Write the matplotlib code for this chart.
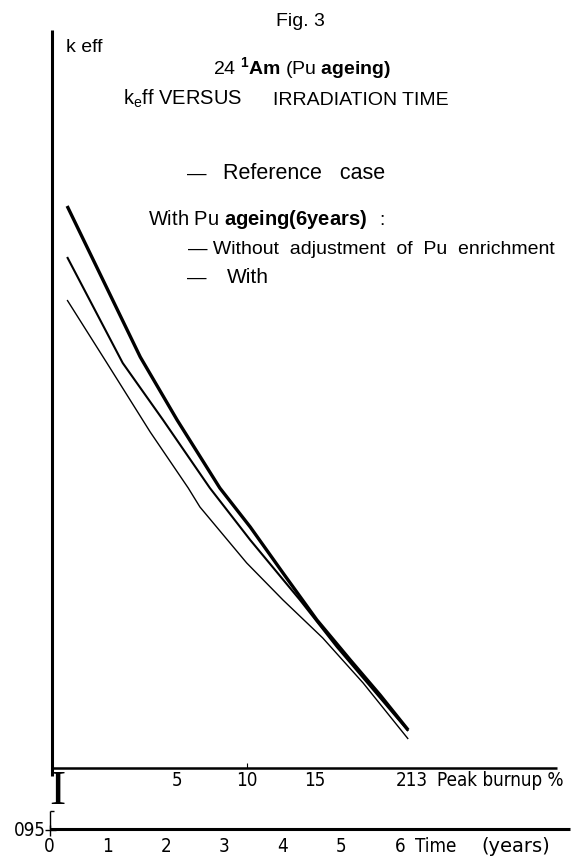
import matplotlib
matplotlib.use("Agg")
import matplotlib.pyplot as plt
from matplotlib.lines import Line2D

# ---------------- data ----------------
# time in years, keff values
ref_time = [0.31, 1.56, 2.19, 2.92, 3.44, 4.00, 4.58, 5.15, 5.66, 6.14]
ref_keff = [1.1992, 1.1388, 1.1136, 1.0864, 1.0708, 1.0524, 1.0336, 1.0176, 1.0036, 0.9896]

noadj_time = [0.31, 1.26, 1.95, 2.75, 3.44, 4.29, 4.92, 6.14]
noadj_keff = [1.1788, 1.1364, 1.1136, 1.0864, 1.0656, 1.0416, 1.0228, 0.9892]

adj_time = [0.31, 0.99, 1.73, 2.38, 2.58, 3.38, 4.00, 4.68, 5.37, 6.14]
adj_keff = [1.1616, 1.1364, 1.1088, 1.0864, 1.0788, 1.0564, 1.0416, 1.0264, 1.0084, 0.9860]

time_ticks = [0, 1, 2, 3, 4, 5, 6]
time_tick_labels = ["0", "1", "2", "3", "4", "5", "6"]
burnup_tick_labels = ["5", "10", "15", "213"]
burnup_tick_times = [2.19, 3.38, 4.55, 6.20]
keff_origin_label = "095"

# ---------------- figure ----------------
W, H = 581, 859
fig = plt.figure(figsize=(W / 100, H / 100), dpi=100)
fig.patch.set_facecolor("white")

plt.rcParams["mathtext.fontset"] = "custom"
plt.rcParams["mathtext.rm"] = "Liberation Sans"
plt.rcParams["mathtext.bf"] = "Liberation Sans:bold"
plt.rcParams["mathtext.it"] = "Liberation Sans:italic"

ax_left, ax_right, ax_top, ax_bottom = 49, 570, 30, 829
ax = fig.add_axes([ax_left / W, 1 - ax_bottom / H, (ax_right - ax_left) / W, (ax_bottom - ax_top) / H])
px_per_year = 58.5
keff_per_px = 0.0004
ax.set_xlim(0, (ax_right - ax_left) / px_per_year)
ax.set_ylim(0.95, 0.95 + (ax_bottom - ax_top) * keff_per_px)
for s in ax.spines.values():
    s.set_visible(False)
ax.set_yticks([])
ax.set_xticks(time_ticks)
ax.set_xticklabels(time_tick_labels)
ax.tick_params(axis="x", length=0, pad=6.0)
for lab in ax.get_xticklabels():
    lab.set_fontfamily("DejaVu Sans")
    lab.set_fontstretch("condensed")
    lab.set_fontsize(13.5)

# curves
ax.plot(ref_time, ref_keff, color="black", lw=2.4, solid_capstyle="butt", solid_joinstyle="round")
ax.plot(noadj_time, noadj_keff, color="black", lw=1.5, solid_capstyle="butt", solid_joinstyle="round")
ax.plot(adj_time, adj_keff, color="black", lw=1.0, solid_capstyle="butt", solid_joinstyle="round")

# axes decorations
def fx(px):
    return px / W

def fy(py):
    return 1 - py / H

def fline(x0, y0, x1, y1, lw):
    fig.add_artist(Line2D([fx(x0), fx(x1)], [fy(y0), fy(y1)], color="black", lw=lw,
                          solid_capstyle="butt", transform=fig.transFigure))

fline(52, 30, 52, 776, 2.2)      # vertical keff axis
fline(52, 768, 557, 768, 1.8)    # burnup axis
fline(247, 763, 247, 768, 0.8)   # small mark above 10
fline(50, 829, 570, 829, 2.2)    # time axis
fline(50, 811, 50, 829, 1.0)     # broken-axis stub
fline(50, 811, 54, 811, 1.0)
fline(45, 830, 56, 830, 1.0)     # origin cross
fline(50, 825, 50, 836, 1.0)
fig.text(fx(57), fy(792), "I", family="Liberation Serif", fontsize=35, ha="center", va="center")

bottom_font = dict(family="DejaVu Sans", fontstretch="condensed", fontsize=13.5)
fig.text(fx(46), fy(831), keff_origin_label, ha="right", va="center", **bottom_font)
for lab, t in zip(burnup_tick_labels, burnup_tick_times):
    ax.text(t, 0.95 + (ax_bottom - 781) * keff_per_px, lab, ha="center", va="center", **bottom_font)
fig.text(fx(437), fy(781), "Peak burnup %", ha="left", va="center", **bottom_font)
fig.text(fx(415), fy(846), "Time", ha="left", va="center", **bottom_font)
fig.text(fx(516), fy(846), "(years)", ha="center", va="center", family="DejaVu Sans", fontsize=14)

# titles and legend texts
tf = dict(family="Liberation Sans", fontsize=14, va="baseline")
fig.text(fx(300), fy(26), "Fig. 3", ha="center", **tf)
fig.text(fx(66), fy(52), "k eff", ha="left", **tf)
fig.text(fx(213), fy(74), r"24 $^{\mathbf{1}}\mathbf{Am}$ (Pu $\mathbf{ageing)}$", ha="left", **tf)
fig.text(fx(123), fy(105), r"k$_{\rm e}$ff VERSUS", ha="left", family="Liberation Sans",
         fontsize=14.5, va="baseline")
fig.text(fx(273), fy(105), "IRRADIATION TIME", ha="left", **tf)
fig.text(fx(187), fy(179), "—", ha="left", **tf)
fig.text(fx(223), fy(179), "Reference   case", ha="left", family="Liberation Sans",
         fontsize=15.5, va="baseline")
fig.text(fx(148), fy(225), r"With Pu $\mathbf{ageing(6years)}$", ha="left", family="Liberation Sans",
         fontsize=14.5, va="baseline")
fig.text(fx(376), fy(225), r"$\it{:}$", ha="left", **tf)
fig.text(fx(188), fy(254), "— Without  adjustment  of  Pu  enrichment", ha="left", **tf)
fig.text(fx(187), fy(283), "—", ha="left", **tf)
fig.text(fx(227), fy(283), "With", ha="left", family="Liberation Sans", fontsize=15, va="baseline")

fig.savefig("out.png", dpi=100, facecolor="white")
